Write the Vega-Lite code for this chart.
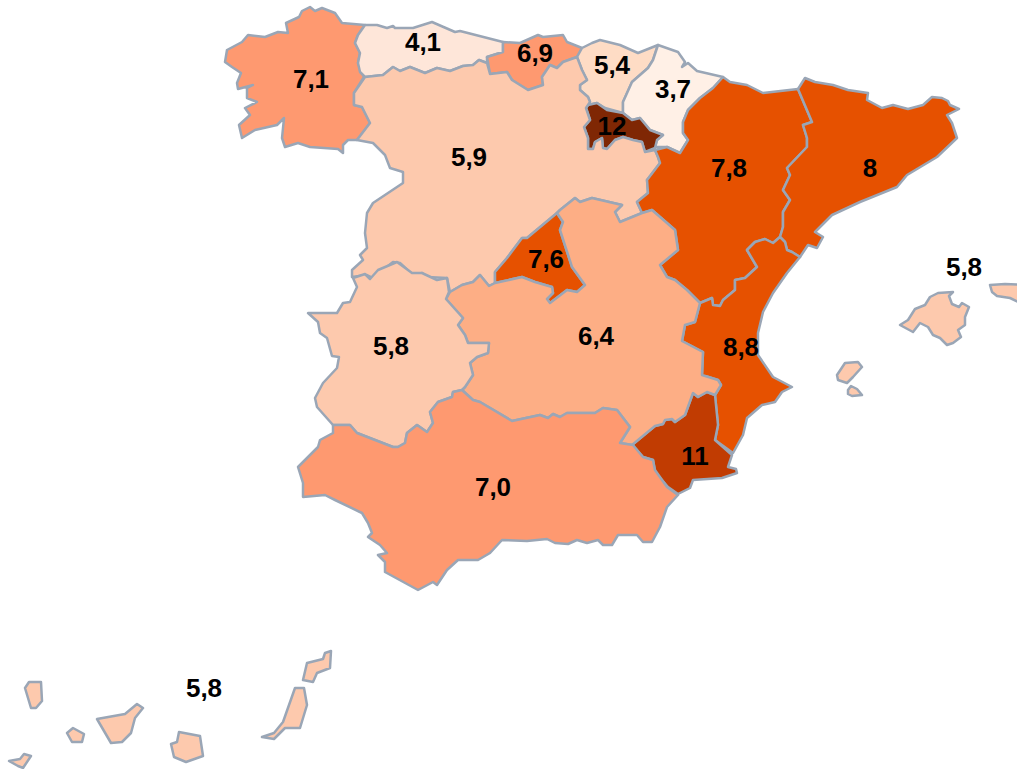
{"$schema":"https://vega.github.io/schema/vega-lite/v6.json","width":1017,"height":769,"padding":0,"autosize":"none","background":"white","config":{"view":{"stroke":null}},"projection":{"type":"identity","scale":1,"translate":[0,0]},"datasets":{"regions":[
{"type":"Feature","properties":{"region":"Galicia","value":7.1},"geometry":{"type":"Polygon","coordinates":[[[225,62],[227,50],[242,42],[248,35],[265,37],[278,32],[288,33],[286,23],[299,17],[302,11],[310,7],[315,11],[322,8],[335,13],[342,23],[365,25],[358,35],[355,43],[360,53],[358,63],[364,77],[354,93],[354,105],[362,107],[370,123],[357,140],[348,140],[343,145],[343,153],[338,149],[310,147],[298,143],[285,147],[282,138],[284,118],[277,125],[255,130],[242,138],[239,125],[250,115],[245,108],[257,102],[247,98],[247,88],[253,85],[238,89],[237,83],[241,73],[232,67],[225,62]]]}},
{"type":"Feature","properties":{"region":"Asturias","value":4.1},"geometry":{"type":"Polygon","coordinates":[[[365,25],[377,25],[387,28],[393,26],[395,28],[413,28],[432,22],[455,32],[460,31],[503,42],[503,52],[487,57],[487,63],[479,60],[473,65],[463,66],[450,71],[437,68],[425,73],[410,67],[400,71],[393,67],[383,75],[365,77],[360,72],[358,63],[360,53],[355,43],[358,35],[365,25]]]}},
{"type":"Feature","properties":{"region":"Cantabria","value":6.9},"geometry":{"type":"Polygon","coordinates":[[[503,42],[520,43],[538,35],[543,37],[563,35],[567,42],[582,48],[577,57],[563,62],[557,68],[550,65],[542,77],[543,85],[528,90],[512,80],[507,72],[490,74],[487,57],[503,52],[503,42]]]}},
{"type":"Feature","properties":{"region":"País Vasco","value":5.4},"geometry":{"type":"Polygon","coordinates":[[[577,57],[582,48],[592,43],[600,40],[620,45],[638,53],[658,45],[653,60],[648,68],[632,82],[623,102],[623,113],[605,108],[597,103],[588,105],[585,102],[590,102],[588,97],[580,90],[580,85],[587,80],[582,70],[577,57]]]}},
{"type":"Feature","properties":{"region":"Navarra","value":3.7},"geometry":{"type":"Polygon","coordinates":[[[658,45],[678,52],[685,62],[682,67],[688,63],[697,71],[723,77],[713,88],[700,98],[688,110],[683,122],[683,133],[688,140],[680,153],[667,147],[655,147],[657,140],[663,135],[650,130],[640,118],[632,120],[623,113],[623,102],[632,82],[648,68],[653,60],[658,45]]]}},
{"type":"Feature","properties":{"region":"La Rioja","value":12},"geometry":{"type":"Polygon","coordinates":[[[588,105],[597,103],[607,110],[623,113],[632,120],[640,118],[650,130],[663,135],[657,140],[655,148],[645,152],[642,142],[633,140],[623,137],[615,140],[607,149],[603,148],[602,138],[595,142],[593,149],[588,149],[588,138],[584,127],[590,120],[586,108],[588,105]]]}},
{"type":"Feature","properties":{"region":"Castilla y León","value":5.9},"geometry":{"type":"Polygon","coordinates":[[[365,77],[383,75],[393,67],[400,71],[410,67],[425,73],[437,68],[450,71],[463,66],[473,65],[479,60],[487,63],[490,74],[507,72],[512,80],[528,90],[543,85],[542,77],[550,65],[557,68],[563,62],[577,57],[582,70],[587,80],[580,85],[580,90],[588,97],[590,102],[588,105],[586,108],[590,120],[584,127],[588,138],[588,149],[593,149],[595,142],[602,138],[603,148],[607,149],[615,140],[623,137],[633,140],[642,142],[645,152],[655,150],[658,157],[660,163],[647,180],[648,193],[637,202],[642,213],[620,222],[615,212],[622,205],[592,198],[580,202],[575,198],[560,210],[557,213],[527,238],[522,238],[507,258],[495,272],[495,283],[489,286],[480,275],[473,282],[462,285],[450,292],[447,278],[427,277],[422,273],[413,275],[400,263],[393,262],[373,278],[367,275],[352,277],[352,270],[363,260],[360,255],[367,248],[365,233],[367,213],[373,203],[403,183],[403,172],[390,168],[385,155],[373,143],[357,140],[370,123],[362,107],[354,105],[354,93],[365,77]]]}},
{"type":"Feature","properties":{"region":"Aragón","value":7.8},"geometry":{"type":"Polygon","coordinates":[[[723,77],[730,82],[747,85],[763,93],[798,89],[812,122],[803,125],[807,138],[807,147],[787,168],[790,175],[783,190],[790,200],[783,212],[783,227],[780,237],[773,243],[765,239],[755,242],[747,250],[757,267],[745,278],[735,280],[735,290],[723,300],[720,306],[713,305],[712,298],[700,303],[687,290],[675,280],[667,277],[660,265],[678,250],[675,230],[652,210],[642,213],[637,202],[648,193],[647,180],[660,163],[658,157],[655,150],[667,147],[680,153],[688,140],[683,133],[683,122],[688,110],[700,98],[713,88],[723,77]]]}},
{"type":"Feature","properties":{"region":"Cataluña","value":8},"geometry":{"type":"Polygon","coordinates":[[[798,89],[805,78],[815,82],[833,85],[848,90],[868,93],[867,100],[882,108],[893,105],[908,109],[923,105],[932,97],[942,98],[948,101],[950,105],[959,109],[947,115],[952,123],[957,138],[937,157],[907,175],[897,187],[860,202],[832,215],[815,232],[823,237],[817,248],[808,245],[800,257],[792,252],[787,250],[785,242],[780,237],[783,227],[783,212],[790,200],[783,190],[790,175],[787,168],[807,147],[807,138],[803,125],[812,122],[798,89]]]}},
{"type":"Feature","properties":{"region":"Comunidad Valenciana","value":8.8},"geometry":{"type":"Polygon","coordinates":[[[747,250],[755,242],[765,239],[773,243],[780,237],[785,242],[787,250],[792,252],[800,257],[787,273],[773,293],[763,312],[758,333],[758,355],[773,377],[792,387],[782,392],[775,402],[762,405],[747,418],[743,435],[733,453],[715,440],[718,425],[715,395],[721,385],[718,380],[702,375],[703,352],[682,341],[685,325],[695,322],[700,303],[712,298],[713,305],[720,306],[723,300],[735,290],[735,280],[745,278],[757,267],[747,250]]]}},
{"type":"Feature","properties":{"region":"Murcia","value":11},"geometry":{"type":"Polygon","coordinates":[[[715,395],[718,425],[715,440],[732,455],[728,467],[736,469],[737,473],[722,478],[693,480],[690,488],[678,494],[668,487],[655,472],[653,460],[643,457],[632,445],[655,426],[663,424],[665,420],[672,419],[675,422],[685,415],[693,393],[698,397],[707,392],[715,395]]]}},
{"type":"Feature","properties":{"region":"Madrid","value":7.6},"geometry":{"type":"Polygon","coordinates":[[[557,213],[563,222],[560,230],[572,267],[585,285],[577,292],[567,290],[550,303],[547,299],[553,293],[552,287],[535,282],[522,277],[495,283],[495,272],[507,258],[522,238],[527,238],[557,213]]]}},
{"type":"Feature","properties":{"region":"Castilla-La Mancha","value":6.4},"geometry":{"type":"Polygon","coordinates":[[[495,283],[522,277],[535,282],[552,287],[553,293],[547,299],[550,303],[567,290],[577,292],[585,285],[572,267],[560,230],[563,222],[557,213],[560,210],[575,198],[580,202],[592,198],[622,205],[615,212],[620,222],[642,213],[652,210],[675,230],[678,250],[660,265],[667,277],[675,280],[687,290],[700,303],[695,322],[685,325],[682,341],[703,352],[702,375],[718,380],[721,385],[715,395],[707,392],[698,397],[693,393],[685,415],[675,422],[672,419],[665,420],[663,424],[655,426],[632,445],[620,443],[630,427],[617,410],[603,408],[595,413],[592,413],[583,413],[567,413],[560,417],[553,414],[548,418],[540,415],[512,421],[480,402],[473,400],[462,390],[465,387],[473,375],[470,363],[477,357],[488,353],[489,343],[468,343],[465,335],[458,325],[463,318],[446,299],[450,292],[462,285],[473,282],[480,275],[489,286],[495,283]]]}},
{"type":"Feature","properties":{"region":"Extremadura","value":5.8},"geometry":{"type":"Polygon","coordinates":[[[353,278],[365,274],[370,279],[378,270],[397,262],[412,273],[422,273],[437,280],[447,278],[449,292],[446,299],[463,318],[458,325],[465,335],[468,343],[489,343],[488,353],[477,357],[470,363],[473,375],[465,387],[462,390],[453,392],[452,397],[438,402],[430,412],[433,423],[427,432],[417,425],[407,433],[405,443],[398,447],[393,447],[357,433],[350,425],[333,425],[317,407],[315,398],[323,383],[337,368],[339,357],[332,356],[327,338],[320,333],[318,322],[308,313],[337,313],[343,303],[350,302],[357,287],[353,278]]]}},
{"type":"Feature","properties":{"region":"Andalucía","value":7.0},"geometry":{"type":"Polygon","coordinates":[[[462,390],[473,400],[480,402],[512,421],[540,415],[548,418],[553,414],[560,417],[567,413],[583,413],[592,413],[595,413],[603,408],[617,410],[630,427],[620,443],[633,445],[643,457],[653,460],[655,470],[667,487],[678,495],[667,507],[660,527],[652,542],[643,542],[637,535],[618,535],[612,545],[603,545],[598,540],[587,543],[577,540],[568,544],[555,543],[547,539],[527,541],[502,540],[490,553],[478,560],[458,560],[447,570],[437,585],[433,582],[418,590],[385,572],[385,562],[378,555],[387,553],[380,545],[368,537],[372,533],[368,523],[362,513],[335,500],[325,495],[303,497],[303,483],[298,467],[318,447],[320,440],[333,433],[333,425],[350,425],[357,433],[393,447],[398,447],[405,443],[407,433],[417,425],[427,432],[433,423],[430,412],[438,402],[452,397],[453,392],[462,390]]]}},
{"type":"Feature","properties":{"region":"Illes Balears","value":5.8},"geometry":{"type":"MultiPolygon","coordinates":[[[[900,325],[908,320],[915,309],[925,305],[930,297],[938,293],[953,292],[949,296],[952,304],[959,307],[962,303],[969,307],[965,317],[965,325],[958,330],[961,337],[953,343],[947,345],[940,338],[933,335],[928,327],[920,323],[913,332],[900,325]]],[[[990,285],[1005,284],[1025,285],[1025,305],[1010,298],[997,296],[992,292],[990,285]]],[[[837,375],[845,363],[858,362],[862,367],[853,377],[847,383],[838,380],[837,375]]],[[[848,390],[851,386],[857,389],[862,395],[852,396],[848,394],[848,390]]]]}},
{"type":"Feature","properties":{"region":"Canarias","value":5.8},"geometry":{"type":"MultiPolygon","coordinates":[[[[303,680],[307,663],[323,659],[325,653],[331,651],[330,668],[317,673],[313,682],[303,680]]],[[[262,737],[274,733],[283,722],[295,688],[304,688],[307,705],[300,728],[285,728],[274,739],[262,737]]],[[[171,744],[177,742],[179,732],[200,736],[203,756],[186,762],[174,757],[171,744]]],[[[97,719],[125,714],[137,704],[143,708],[135,718],[131,733],[122,742],[111,743],[97,719]]],[[[67,733],[73,728],[84,734],[82,742],[72,742],[67,733]]],[[[25,688],[29,682],[41,682],[42,701],[36,708],[31,708],[25,688]]],[[[9,761],[20,759],[24,754],[31,756],[23,768],[18,766],[9,761]]]]}}
],"labels":[
{"region":"Galicia","label":"7,1","lon":311,"lat":80},{"region":"Asturias","label":"4,1","lon":423,"lat":43},{"region":"Cantabria","label":"6,9","lon":535,"lat":54},{"region":"País Vasco","label":"5,4","lon":612,"lat":66},{"region":"Navarra","label":"3,7","lon":673,"lat":90},{"region":"La Rioja","label":"12","lon":612,"lat":127},{"region":"Castilla y León","label":"5,9","lon":469,"lat":158},{"region":"Aragón","label":"7,8","lon":729,"lat":169},{"region":"Cataluña","label":"8","lon":870,"lat":169},{"region":"Madrid","label":"7,6","lon":546,"lat":260},{"region":"Extremadura","label":"5,8","lon":391,"lat":347},{"region":"Castilla-La Mancha","label":"6,4","lon":596,"lat":337},{"region":"Comunidad Valenciana","label":"8,8","lon":741,"lat":348},{"region":"Murcia","label":"11","lon":695,"lat":457},{"region":"Andalucía","label":"7,0","lon":493,"lat":488},{"region":"Illes Balears","label":"5,8","lon":964,"lat":268},{"region":"Canarias","label":"5,8","lon":204,"lat":689}
]},"layer":[
{"data":{"name":"regions"},"mark":{"type":"geoshape","stroke":"#9aa6b6","strokeWidth":2.5,"strokeJoin":"round"},"encoding":{"color":{"field":"properties.value","type":"quantitative","legend":null,"scale":{"type":"threshold","domain":[4,5,5.5,6,6.5,7.5,10,11.5],"range":["#fff0e6","#fee6d9","#fedcc5","#fdc9ad","#fdae85","#fe9970","#e65100","#c13c02","#7f2704"]}}}},
{"data":{"name":"labels"},"mark":{"type":"text","font":"Liberation Sans","fontWeight":"bold","fontSize":26,"color":"black","align":"center","baseline":"middle"},"encoding":{"longitude":{"field":"lon","type":"quantitative"},"latitude":{"field":"lat","type":"quantitative"},"text":{"field":"label","type":"nominal"}}}
]}
